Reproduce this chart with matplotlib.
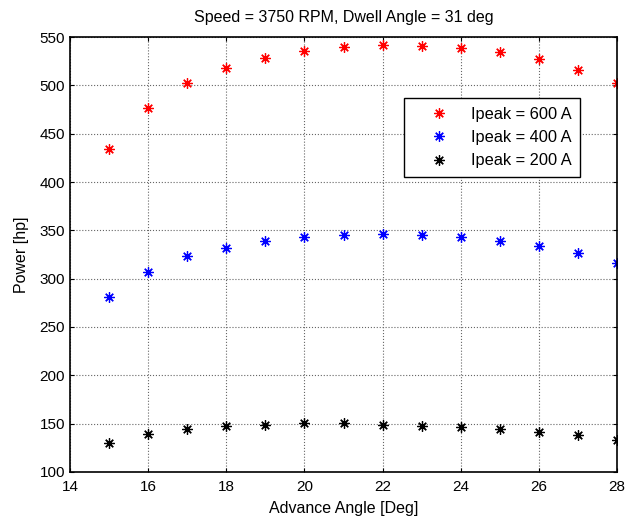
import matplotlib
matplotlib.use("Agg")
import matplotlib.pyplot as plt

# Данные
angle = [15, 16, 17, 18, 19, 20, 21, 22, 23, 24, 25, 26, 27, 28]
p600 = [434, 477, 502, 518, 528, 536, 540, 542, 541, 539, 534, 527, 516, 502]
p400 = [281, 307, 323, 332, 339, 343, 345, 346, 345, 343, 339, 334, 327, 316]
p200 = [130, 139, 144, 148, 149, 151, 151, 149, 148, 147, 144, 141, 138, 133]
labels = ["Ipeak = 600 A", "Ipeak = 400 A", "Ipeak = 200 A"]

plt.rcParams["font.family"] = ["Liberation Sans", "DejaVu Sans"]
plt.rcParams["font.size"] = 11

fig = plt.figure(figsize=(6.28, 5.25), dpi=100)
ax = fig.add_axes([0.1115, 0.101, 0.871, 0.8285])

star = (8, 2, 0)
for y, c, lab in zip([p600, p400, p200], ["r", "b", "k"], labels):
    ax.plot(angle, y, linestyle="none", marker=star, color=c, markersize=7.5,
            markeredgewidth=0.9, label=lab)

ax.set_xlim(14, 28)
ax.set_ylim(100, 550)
ax.set_xticks(range(14, 29, 2))
ax.set_yticks(range(100, 551, 50))
ax.tick_params(direction="in", length=3, labelsize=11, top=True, right=True)
ax.tick_params(axis="x", pad=6)
ax.grid(True, linestyle=":", color="#666666", linewidth=0.8)
for s in ax.spines.values():
    s.set_linewidth(1.2)

ax.set_xlabel("Advance Angle [Deg]", fontsize=11.5, labelpad=5)
ax.set_ylabel("Power [hp]", fontsize=11.5, labelpad=8)
ax.set_title("Speed = 3750 RPM, Dwell Angle = 31 deg", fontsize=11.5, pad=11)

leg = ax.legend(loc="upper left", bbox_to_anchor=(0.611, 0.86), fontsize=11.8,
                fancybox=False, edgecolor="k", framealpha=1, handlelength=3.2,
                handletextpad=0.3, borderpad=0.55, labelspacing=0.5,
                borderaxespad=0)
leg.get_frame().set_linewidth(1.0)

plt.savefig("out.png", dpi=100)
